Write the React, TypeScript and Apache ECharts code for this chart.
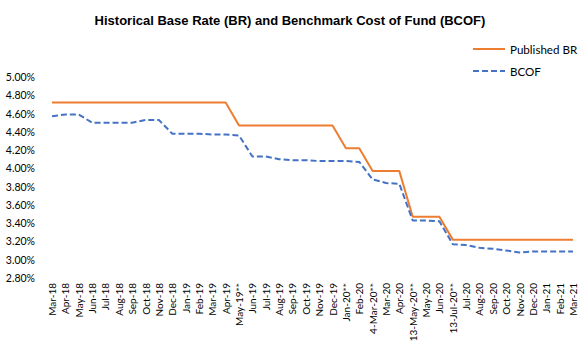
import React, { useEffect, useRef } from "react";
import * as echarts from "echarts";

const categories: string[] = [
  "Mar-18", "Apr-18", "May-18", "Jun-18", "Jul-18", "Aug-18", "Sep-18", "Oct-18", "Nov-18", "Dec-18",
  "Jan-19", "Feb-19", "Mar-19", "Apr-19", "May-19**", "Jun-19", "Jul-19", "Aug-19", "Sep-19", "Oct-19",
  "Nov-19", "Dec-19", "Jan-20**", "Feb-20", "4-Mar-20**", "Mar-20", "Apr-20", "13-May-20**", "May-20", "Jun-20",
  "13-Jul-20**", "Jul-20", "Aug-20", "Sep-20", "Oct-20", "Nov-20", "Dec-20", "Jan-21", "Feb-21", "Mar-21",
];

const publishedBR: number[] = [
  4.72, 4.72, 4.72, 4.72, 4.72, 4.72, 4.72, 4.72, 4.72, 4.72,
  4.72, 4.72, 4.72, 4.72, 4.47, 4.47, 4.47, 4.47, 4.47, 4.47,
  4.47, 4.47, 4.22, 4.22, 3.97, 3.97, 3.97, 3.47, 3.47, 3.47,
  3.22, 3.22, 3.22, 3.22, 3.22, 3.22, 3.22, 3.22, 3.22, 3.22,
];

const bcof: number[] = [
  4.57, 4.59, 4.59, 4.50, 4.50, 4.50, 4.50, 4.53, 4.53, 4.38,
  4.38, 4.38, 4.37, 4.37, 4.36, 4.13, 4.13, 4.10, 4.09, 4.09,
  4.08, 4.08, 4.08, 4.07, 3.88, 3.84, 3.83, 3.43, 3.43, 3.42,
  3.17, 3.16, 3.13, 3.12, 3.10, 3.08, 3.09, 3.09, 3.09, 3.09,
];

const yMin = 2.8;
const yMax = 5.0;
const yStep = 0.2;

const FONT = "Lato, 'Open Sans', sans-serif";

export default function App() {
  const ref = useRef<HTMLDivElement>(null);
  useEffect(() => {
    if (!ref.current) return;
    const chart = echarts.init(ref.current, undefined, { renderer: "svg" });
    chart.setOption({
      animation: false,
      backgroundColor: "#ffffff",
      title: {
        text: "Historical Base Rate (BR) and Benchmark Cost of Fund (BCOF)",
        left: "center",
        top: 9,
        textStyle: {
          fontFamily: "'Liberation Sans', Arial, sans-serif",
          fontWeight: "bold",
          fontSize: 13,
          color: "#000000",
        },
      },
      legend: {
        orient: "vertical",
        left: 467,
        top: 38,
        itemWidth: 32,
        itemHeight: 10,
        itemGap: 10,
        itemStyle: { opacity: 0 },
        textStyle: { fontFamily: FONT, fontSize: 11.6, color: "#000000" },
        data: ["Published BR", "BCOF"],
      },
      grid: { left: 52, right: 7, top: 77, bottom: 70, containLabel: false },
      xAxis: {
        type: "category",
        data: categories,
        boundaryGap: false,
        axisLine: { show: false },
        axisTick: { show: false },
        splitLine: { show: false },
        axisLabel: {
          rotate: 90,
          interval: 0,
          margin: 5,
          fontFamily: FONT,
          fontSize: 10,
          color: "#000000",
        },
      },
      yAxis: {
        type: "value",
        min: yMin,
        max: yMax,
        interval: yStep,
        axisLine: { show: false },
        axisTick: { show: false },
        splitLine: { show: false },
        axisLabel: {
          margin: 17,
          fontFamily: FONT,
          fontSize: 10.5,
          color: "#000000",
          formatter: (v: number) => v.toFixed(2) + "%",
        },
      },
      series: [
        {
          name: "Published BR",
          type: "line",
          data: publishedBR,
          symbol: "none",
          showSymbol: false,
          lineStyle: { color: "#ED7D31", width: 2, type: "solid" },
          itemStyle: { color: "#ED7D31" },
        },
        {
          name: "BCOF",
          type: "line",
          data: bcof,
          symbol: "none",
          showSymbol: false,
          lineStyle: { color: "#4472C4", width: 2, type: [6, 3] },
          itemStyle: { color: "#4472C4" },
        },
      ],
    });
    return () => chart.dispose();
  }, []);
  return <div ref={ref} style={{ width: 580, height: 348, position: "absolute", left: 0, top: 0 }} />;
}
